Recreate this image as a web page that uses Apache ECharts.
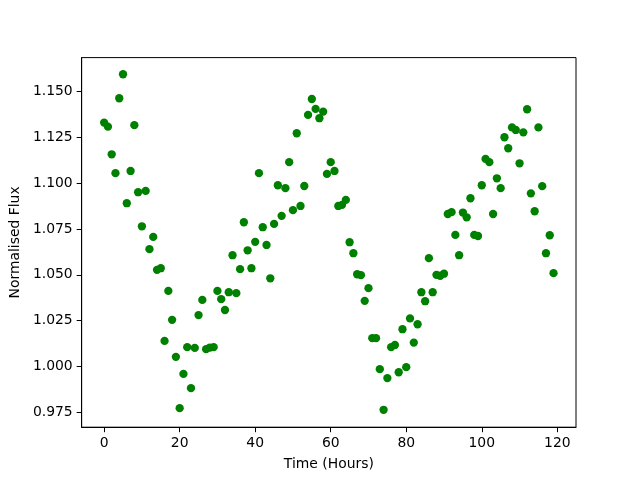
<!DOCTYPE html>
<html lang="en" style="height: 100%">

<head>
  <meta charset="utf-8">
</head>

<body style="height: 100%; margin: 0">
  <div id="container" style="height: 100%"></div>

  <script type="text/javascript" src="https://fastly.jsdelivr.net/npm/echarts@6.0.0/dist/echarts.min.js"></script>
  <script type="text/javascript">
    // hours of each measurement
    var hours = [];
    for (var h = 0; h < 120; h++) hours.push(h);

    // normalised flux
    var flux = [
      1.1331, 1.1309, 1.1158, 1.1055, 1.1464, 1.1595, 1.0891, 1.1067, 1.1317, 1.0951,
      1.0765, 1.0958, 1.0640, 1.0707, 1.0527, 1.0536, 1.0139, 1.0412, 1.0254, 1.0052,
      0.9772, 0.9959, 1.0105, 0.9881, 1.0101, 1.0280, 1.0363, 1.0094, 1.0103, 1.0105,
      1.0412, 1.0367, 1.0308, 1.0405, 1.0607, 1.0400, 1.0531, 1.0787, 1.0634, 1.0536,
      1.0680, 1.1055, 1.0760, 1.0663, 1.0481, 1.0778, 1.0989, 1.0822, 1.0973, 1.1115,
      1.0853, 1.1273, 1.0876, 1.0985, 1.1373, 1.1460, 1.1406, 1.1355, 1.1391, 1.1051,
      1.1115, 1.1067, 1.0876, 1.0882, 1.0909, 1.0678, 1.0618, 1.0503, 1.0498, 1.0358,
      1.0427, 1.0154, 1.0154, 0.9985, 0.9763, 0.9936, 1.0105, 1.0117, 0.9968, 1.0203,
      0.9996, 1.0262, 1.0130, 1.0230, 1.0405, 1.0356, 1.0591, 1.0405, 1.0500, 1.0495,
      1.0506, 1.0832, 1.0842, 1.0718, 1.0607, 1.0840, 1.0814, 1.0918, 1.0718, 1.0712,
      1.0989, 1.1133, 1.1115, 1.0832, 1.1027, 1.0973, 1.1251, 1.1191, 1.1305, 1.1291,
      1.1109, 1.1278, 1.1404, 1.0945, 1.0847, 1.1305, 1.0984, 1.0618, 1.0716, 1.0509
    ];

    var xTicks = [0, 20, 40, 60, 80, 100, 120];
    var yTicks = [0.975, 1.000, 1.025, 1.050, 1.075, 1.100, 1.125, 1.150];

    var points = hours.map(function (h, i) { return [h, flux[i]]; });

    var dom = document.getElementById('container');
    var myChart = echarts.init(dom, null, { renderer: 'canvas' });

    var font = 'DejaVu Sans';
    var axisCommon = {
      axisLine: { show: true, onZero: false, lineStyle: { color: '#000', width: 1 } },
      axisTick: { show: true, inside: false, length: 5, lineStyle: { color: '#000', width: 1 } },
      splitLine: { show: false },
      nameLocation: 'middle',
      nameTextStyle: { color: '#000', fontFamily: font, fontSize: 13.9 }
    };

    var option = {
      animation: false,
      backgroundColor: '#fff',
      grid: {
        left: 80, right: 64, top: 57.6, bottom: 52.8,
        show: true, borderColor: '#000', borderWidth: 1, backgroundColor: 'transparent'
      },
      xAxis: Object.assign({}, axisCommon, {
        type: 'value',
        min: -5.95,
        max: 124.95,
        name: 'Time (Hours)',
        nameGap: 30,
        axisTick: Object.assign({}, axisCommon.axisTick, { customValues: xTicks }),
        axisLabel: {
          customValues: xTicks,
          color: '#000', fontFamily: font, fontSize: 13.9, margin: 9,
          formatter: function (v) { return String(v); }
        }
      }),
      yAxis: Object.assign({}, axisCommon, {
        type: 'value',
        min: 0.9668,
        max: 1.1686,
        name: 'Normalised Flux',
        nameGap: 56,
        axisTick: Object.assign({}, axisCommon.axisTick, { customValues: yTicks }),
        axisLabel: {
          customValues: yTicks,
          color: '#000', fontFamily: font, fontSize: 13.9, margin: 9,
          formatter: function (v) { return v.toFixed(3); }
        }
      }),
      series: [
        {
          type: 'scatter',
          data: points,
          symbol: 'circle',
          symbolSize: 8.3,
          itemStyle: { color: '#008000', opacity: 1 }
        }
      ]
    };

    myChart.setOption(option);
    window.addEventListener('resize', myChart.resize);
  </script>
</body>

</html>
